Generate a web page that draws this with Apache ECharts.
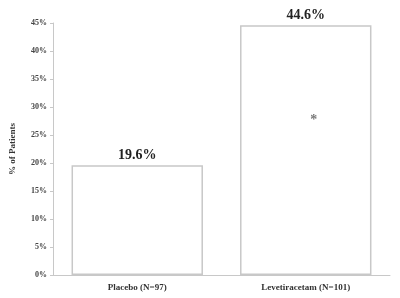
<!DOCTYPE html>
<html>
<head>
<meta charset="utf-8">
<script src="https://cdn.jsdelivr.net/npm/echarts@6/dist/echarts.min.js"></script>
<style>
  html, body { margin: 0; padding: 0; background: #fff; }
  #chart { width: 400px; height: 298px; }
</style>
</head>
<body>
<div id="chart"></div>
<script>
var categories = ['Placebo (N=97)', 'Levetiracetam (N=101)'];
var percentValues = [19.6, 44.6];
var yTicks = [0, 5, 10, 15, 20, 25, 30, 35, 40, 45];
// significance marker inside second bar
var asteriskPoint = [['Levetiracetam (N=101)', 28.2]];

var serif = '"Liberation Serif", "DejaVu Serif", serif';
var chart = echarts.init(document.getElementById('chart'));

var option = {
  animation: false,
  grid: { left: 50, right: 10, top: 23, bottom: 23 },
  xAxis: {
    type: 'category',
    data: categories,
    axisLine: { lineStyle: { color: '#c8c8c8', width: 1 } },
    axisTick: { show: false },
    axisLabel: {
      color: '#333',
      fontFamily: serif,
      fontWeight: 'bold',
      fontSize: 9,
      margin: 8
    }
  },
  yAxis: {
    type: 'value',
    min: yTicks[0],
    max: yTicks[yTicks.length - 1],
    interval: 5,
    name: '% of Patients',
    nameLocation: 'middle',
    nameGap: 36,
    nameTextStyle: {
      color: '#333',
      fontFamily: serif,
      fontWeight: 'bold',
      fontSize: 9
    },
    axisLine: { show: true, lineStyle: { color: '#c8c8c8' } },
    axisTick: { show: true, length: 3, lineStyle: { color: '#c8c8c8' } },
    splitLine: { show: false },
    axisLabel: {
      color: '#444',
      fontFamily: serif,
      fontWeight: 'bold',
      fontSize: 8,
      margin: 6,
      formatter: '{value}%'
    }
  },
  series: [
    {
      type: 'bar',
      data: percentValues,
      barWidth: '78%',
      itemStyle: { color: '#fff', borderColor: '#c8c8c8', borderWidth: 1.5 },
      label: {
        show: true,
        position: 'top',
        distance: 3,
        formatter: function (p) { return p.value.toFixed(1) + '%'; },
        color: '#222',
        fontFamily: serif,
        fontWeight: 'bold',
        fontSize: 14
      }
    },
    {
      type: 'scatter',
      data: asteriskPoint,
      symbolSize: 0,
      label: {
        show: true,
        position: 'inside',
        offset: [8, 3],
        formatter: '*',
        color: '#555',
        fontFamily: serif,
        fontWeight: 'bold',
        fontSize: 14
      }
    }
  ]
};

chart.setOption(option);
</script>
</body>
</html>
